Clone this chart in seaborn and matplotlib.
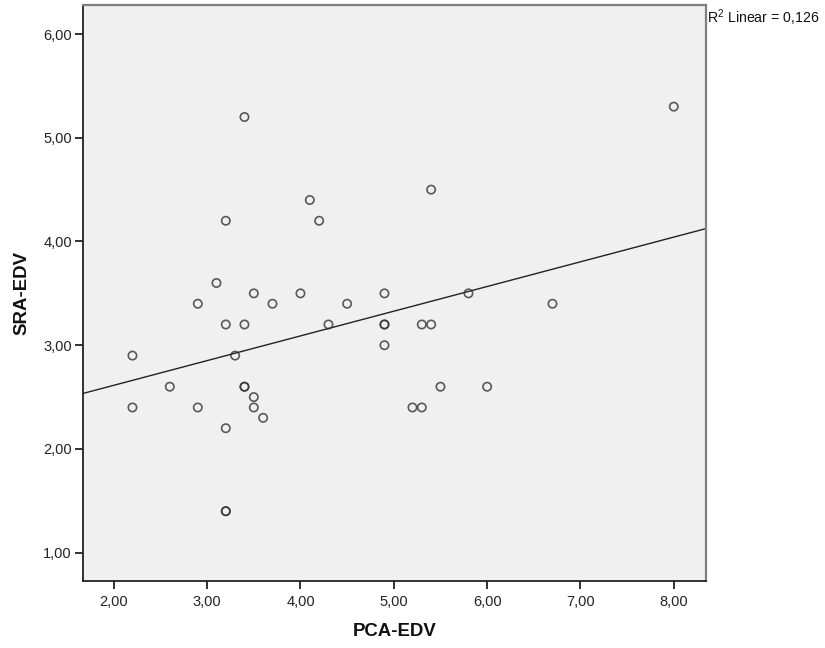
# plot.py
# ─────────────────────────────────────────────────────────────
# SPSS-style scatter of SRA-EDV vs PCA-EDV with a linear fit line.
# Output: out.png (825x648)
# ─────────────────────────────────────────────────────────────

import numpy as np
import pandas as pd
import matplotlib
matplotlib.use('Agg')
import matplotlib.pyplot as plt
from matplotlib.ticker import FuncFormatter
import seaborn as sns

# ── Data ──────────────────────────────────────────────────────
pca_edv = [2.2, 2.2, 2.6, 2.9, 2.9, 3.1, 3.2, 3.2, 3.2, 3.2,
           3.2, 3.3, 3.4, 3.4, 3.4, 3.4, 3.5, 3.5, 3.5, 3.6,
           3.7, 4.0, 4.1, 4.2, 4.3, 4.5, 4.9, 4.9, 4.9, 4.9,
           5.2, 5.3, 5.3, 5.4, 5.4, 5.5, 5.8, 6.0, 6.7, 8.0]
sra_edv = [2.9, 2.4, 2.6, 3.4, 2.4, 3.6, 4.2, 3.2, 2.2, 1.4,
           1.4, 2.9, 5.2, 3.2, 2.6, 2.6, 3.5, 2.5, 2.4, 2.3,
           3.4, 3.5, 4.4, 4.2, 3.2, 3.4, 3.5, 3.2, 3.2, 3.0,
           2.4, 2.4, 3.2, 3.2, 4.5, 2.6, 3.5, 2.6, 3.4, 5.3]
x_ticks = [2, 3, 4, 5, 6, 7, 8]
y_ticks = [1, 2, 3, 4, 5, 6]
r2_label = "R$^2$ Linear = 0,126"

# ── Style ─────────────────────────────────────────────────────
sns.set_style("white")
plt.rcParams['font.family'] = ['Liberation Sans', 'DejaVu Sans']
plt.rcParams['mathtext.fontset'] = 'custom'
plt.rcParams['mathtext.rm'] = 'Liberation Sans'

XLIM = (1.67, 8.34)
YLIM = (0.727, 6.277)
BG = '#F0F0F0'

df = pd.DataFrame({"PCA-EDV": pca_edv, "SRA-EDV": sra_edv})

fig = plt.figure(figsize=(8.25, 6.48), dpi=100)
ax = fig.add_axes([0.1006, 0.1034, 0.7546, 0.8884])
ax.set_facecolor(BG)
ax.set_xlim(XLIM)
ax.set_ylim(YLIM)

sns.regplot(
    data=df, x="PCA-EDV", y="SRA-EDV", ax=ax,
    ci=None, truncate=False,
    scatter_kws=dict(s=36, facecolors='none', edgecolors='#333333',
                     linewidths=1.2, zorder=3),
    line_kws=dict(color='#222222', linewidth=1.0, zorder=2),
)
ax.set_xlim(XLIM)
ax.set_ylim(YLIM)

# ── Axes cosmetics ────────────────────────────────────────────
fmt = FuncFormatter(lambda v, _: f"{v:.2f}".replace('.', ','))
ax.set_xticks(x_ticks)
ax.set_yticks(y_ticks)
ax.xaxis.set_major_formatter(fmt)
ax.yaxis.set_major_formatter(fmt)
ax.tick_params(axis='both', direction='out', length=6, width=1.3,
               color='#222222', labelsize=10.5, labelcolor='#222222',
               bottom=True, left=True, top=False, right=False)
ax.tick_params(axis='x', pad=4)
ax.tick_params(axis='y', pad=2)

for side in ['left', 'bottom']:
    ax.spines[side].set_color('#222222')
    ax.spines[side].set_linewidth(1.3)
for side in ['top', 'right']:
    ax.spines[side].set_color('#808080')
    ax.spines[side].set_linewidth(1.6)

ax.set_xlabel("PCA-EDV", fontsize=13.4, fontweight='bold', color='#111111')
ax.set_ylabel("SRA-EDV", fontsize=13.4, fontweight='bold', color='#111111')
ax.xaxis.set_label_coords(0.5, -0.073)
ax.yaxis.set_label_coords(-0.085, 0.5)

# R-squared annotation outside the top-right corner
fig.text(707 / 825, 1 - 22.7 / 648, r2_label, fontsize=10.2,
         color='#111111', ha='left', va='baseline')

slope, intercept = np.polyfit(pca_edv, sra_edv, 1)
r2 = np.corrcoef(pca_edv, sra_edv)[0, 1] ** 2
print(f"slope={slope:.3f} intercept={intercept:.3f} r2={r2:.3f}")

fig.savefig("out.png", dpi=100, facecolor='white')
plt.close(fig)
